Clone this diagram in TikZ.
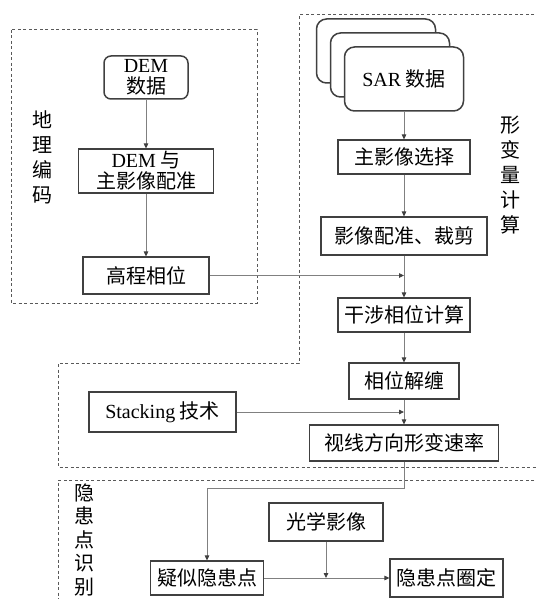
\documentclass[tikz,border=0pt]{standalone}
\usepackage{fontspec}
\setmainfont{Liberation Serif}
\newfontfamily\cjk{Noto Sans CJK SC}
\usetikzlibrary{arrows.meta}
\newcommand\latn[1]{{\rmfamily #1}}
\begin{document}
\begin{tikzpicture}[x=1pt,y=-1pt,
  box/.style={draw=black!75, line width=1.1pt, inner sep=0pt, font=\cjk\fontsize{20}{21}\selectfont, align=center, fill=white},
  sarbox/.style={box, rounded corners=10pt, line width=1.5pt, minimum width=119pt, minimum height=64pt},
  conn/.style={draw=black!50, line width=0.8pt},
  arr/.style={conn, -{Triangle[length=5pt,width=4.5pt,color=black!75]}},
  region/.style={draw=black!65, line width=1pt, dash pattern=on 3pt off 2.5pt},
  vlabel/.style={font=\cjk\fontsize{20}{25}\selectfont, align=center, inner sep=0pt}]
\useasboundingbox (0,0) rectangle (537,599);

% dashed regions
\draw[region] (11,30) rectangle (257,303);
\draw[region] (545,15) -- (299,15) -- (299,363) -- (58,363) -- (58,467) -- (545,467);
\draw[region] (545,480) -- (58,480) -- (58,605);

% geocoding column
\node[box, rounded corners=7pt, line width=1.5pt, minimum width=84pt, minimum height=43pt] (dem) at (146,77.5) {\latn{DEM}\\数据};
\node[box, minimum width=135pt, minimum height=44pt] (reg) at (146,171) {\latn{DEM} 与\\主影像配准};
\node[box, minimum width=126pt, minimum height=37pt] (elev) at (146,275.5) {高程相位};

% SAR stack
\node[sarbox] (sar3) at (376,51) {};
\node[sarbox] (sar2) at (390,65) {};
\node[sarbox] (sar) at (404,79) {\latn{SAR} 数据};

\node[box, minimum width=132pt, minimum height=34pt] (master) at (404,157) {主影像选择};
\node[box, minimum width=166pt, minimum height=38pt] (coreg) at (404,236) {影像配准、裁剪};
\node[box, minimum width=132pt, minimum height=34pt] (ifg) at (404,315) {干涉相位计算};
\node[box, minimum width=110pt, minimum height=36pt] (unw) at (404,381) {相位解缠};
\node[box, minimum width=147pt, minimum height=40pt] (stack) at (162.5,412) {\latn{Stacking} 技术};
\node[box, minimum width=189pt, minimum height=36pt] (los) at (404,443) {视线方向形变速率};

% hidden danger identification
\node[box, minimum width=114pt, minimum height=38pt] (optical) at (326,522) {光学影像};
\node[box, minimum width=113pt, minimum height=34pt] (suspect) at (207,578) {疑似隐患点};
\node[box, minimum width=113pt, minimum height=38pt] (delin) at (446.5,578) {隐患点圈定};

% labels
\node[vlabel] (lab1) at (42,157.5) {地\\理\\编\\码};
\node[vlabel] (lab2) at (510,175.5) {形\\变\\量\\计\\算};
\node[vlabel, font=\cjk\fontsize{20}{23.5}\selectfont] (lab3) at (84,540) {隐\\患\\点\\识\\别};

% connectors
\draw[arr] (dem) -- (reg);
\draw[arr] (reg) -- (elev);
\draw[arr] (elev) -- (elev -| sar);
\draw[arr] (sar) -- (master);
\draw[arr] (master) -- (coreg);
\draw[arr] (coreg) -- (ifg);
\draw[arr] (ifg) -- (unw);
\draw[arr] (unw) -- (los);
\draw[arr] (stack) -- (stack -| los);
\coordinate (bend) at (404,488);
\draw[arr] (los.south) -- (bend) -| (suspect.north);
\draw[arr] (suspect) -- (delin);
\draw[arr] (optical) -- (optical |- suspect);
\end{tikzpicture}
\end{document}
